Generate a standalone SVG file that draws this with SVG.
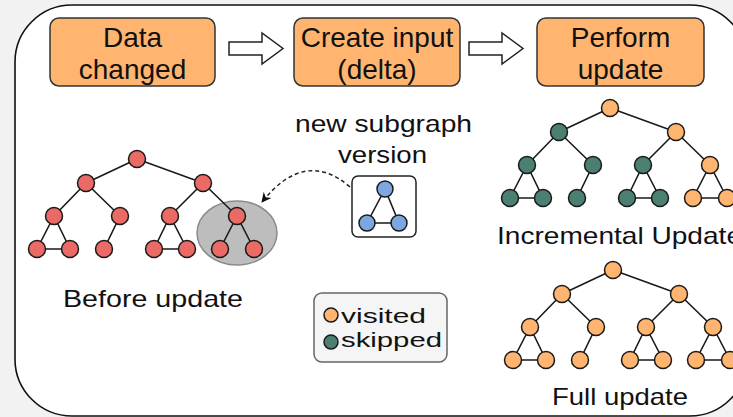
<svg xmlns="http://www.w3.org/2000/svg" width="733" height="417" viewBox="0 0 733 417">
<style>
text{font-family:"Liberation Sans",Arial,sans-serif;fill:#111}
.box{fill:#FFB570;stroke:#333;stroke-width:1.5}
.bt{font-size:28px;text-anchor:middle}
.lbl{font-size:24px}
.n{stroke:#1a1a1a;stroke-width:1.5}
.red{fill:#EA6B66}.org{fill:#FFB570}.teal{fill:#4A7F72}.blue{fill:#7EA6E0}
.e{stroke:#1a1a1a;stroke-width:1.6;fill:none}
.blk{fill:#fff;stroke:#222;stroke-width:1.5;stroke-linejoin:miter}
</style>
<defs>
<marker id="ah" viewBox="0 0 10 10" markerUnits="userSpaceOnUse" markerWidth="11" markerHeight="10" refX="9" refY="5" orient="auto">
<path d="M0,0 L10,5 L0,10 L3,5 z" fill="#111"/>
</marker>
</defs>
<rect x="0" y="0" width="733" height="417" fill="#f2f2f2"/>
<rect x="15" y="5" width="732" height="411" rx="57" fill="#fff" stroke="#111" stroke-width="1.6"/>

<g id="box-data"><rect class="box" x="50" y="18" width="165" height="68" rx="9"/><text class="bt" x="132.5" y="47">Data</text><text class="bt" x="132.5" y="79">changed</text></g>
<g id="box-create"><rect class="box" x="294" y="18" width="166" height="68" rx="9"/><text class="bt" x="377" y="47">Create input</text><text class="bt" x="377" y="79">(delta)</text></g>
<g id="box-perform"><rect class="box" x="537" y="18" width="167" height="68" rx="9"/><text class="bt" x="620.5" y="47">Perform</text><text class="bt" x="620.5" y="79">update</text></g>

<g id="connectors">
<polygon class="blk" points="229,42 262,42 262,33 283,48.5 262,64 262,55 229,55"/>
<polygon class="blk" points="469,42 502,42 502,33 523,48.5 502,64 502,55 469,55"/>
<path d="M350,187 Q305,148 262,202" fill="none" stroke="#222" stroke-width="1.5" stroke-dasharray="4 3" marker-end="url(#ah)"/>
</g>

<ellipse cx="237" cy="233" rx="40" ry="32" fill="#bdbdbd" stroke="#8a8a8a" stroke-width="1.5"/>
<rect x="352" y="176" width="64" height="61" rx="6" fill="#fff" stroke="#222" stroke-width="1.5"/>

<g id="edges">
<path class="e" d="M137,159L86,183M137,159L203,183M86,183L54,216M86,183L120,216M203,183L170,216M203,183L237,216M54,216L37,249M54,216L70,249M37,249L70,249M120,216L104,249M170,216L154,249M170,216L187,249M154,249L187,249M237,216L220,249M237,216L254,249"/>
<path class="e" d="M610,108L559,132M610,108L676,132M559,132L527,165M559,132L593,165M676,132L643,165M676,132L710,165M527,165L510,198M527,165L543,198M510,198L543,198M593,165L577,198M643,165L627,198M643,165L660,198M627,198L660,198M710,165L693,198M710,165L727,198M693,198L727,198"/>
<path class="e" d="M613,270L562,294M613,270L679,294M562,294L530,327M562,294L596,327M679,294L646,327M679,294L713,327M530,327L513,360M530,327L546,360M513,360L546,360M596,327L580,360M646,327L630,360M646,327L663,360M630,360L663,360M713,327L696,360M713,327L730,360M696,360L730,360"/>
<path class="e" d="M385,189L367,223M385,189L399,223M367,223L399,223"/>
</g>

<g id="before-tree">
<g id="b0"><circle class="n red" cx="137" cy="159" r="8.5"/></g>
<g id="b1"><circle class="n red" cx="86" cy="183" r="8.5"/></g>
<g id="b2"><circle class="n red" cx="203" cy="183" r="8.5"/></g>
<g id="b3"><circle class="n red" cx="54" cy="216" r="8.5"/></g>
<g id="b4"><circle class="n red" cx="120" cy="216" r="8.5"/></g>
<g id="b5"><circle class="n red" cx="170" cy="216" r="8.5"/></g>
<g id="b6"><circle class="n red" cx="237" cy="216" r="8.5"/></g>
<g id="b7"><circle class="n red" cx="37" cy="249" r="8.5"/></g>
<g id="b8"><circle class="n red" cx="70" cy="249" r="8.5"/></g>
<g id="b9"><circle class="n red" cx="104" cy="249" r="8.5"/></g>
<g id="b10"><circle class="n red" cx="154" cy="249" r="8.5"/></g>
<g id="b11"><circle class="n red" cx="187" cy="249" r="8.5"/></g>
<g id="b12"><circle class="n red" cx="220" cy="249" r="8.5"/></g>
<g id="b13"><circle class="n red" cx="254" cy="249" r="8.5"/></g>
</g>
<text class="lbl" x="63" y="307" textLength="180" lengthAdjust="spacingAndGlyphs">Before update</text>

<g id="subgraph">
<g id="s0"><circle class="n blue" cx="385" cy="189" r="8"/></g>
<g id="s1"><circle class="n blue" cx="367" cy="223" r="8"/></g>
<g id="s2"><circle class="n blue" cx="399" cy="223" r="8"/></g>
</g>
<text class="lbl" x="295" y="132" textLength="177" lengthAdjust="spacingAndGlyphs">new subgraph</text>
<text class="lbl" x="338" y="163" textLength="89" lengthAdjust="spacingAndGlyphs">version</text>

<g id="inc-tree">
<g id="i0"><circle class="n org" cx="610" cy="108" r="8.5"/></g>
<g id="i1"><circle class="n teal" cx="559" cy="132" r="8.5"/></g>
<g id="i2"><circle class="n org" cx="676" cy="132" r="8.5"/></g>
<g id="i3"><circle class="n teal" cx="527" cy="165" r="8.5"/></g>
<g id="i4"><circle class="n teal" cx="593" cy="165" r="8.5"/></g>
<g id="i5"><circle class="n teal" cx="643" cy="165" r="8.5"/></g>
<g id="i6"><circle class="n org" cx="710" cy="165" r="8.5"/></g>
<g id="i7"><circle class="n teal" cx="510" cy="198" r="8.5"/></g>
<g id="i8"><circle class="n teal" cx="543" cy="198" r="8.5"/></g>
<g id="i9"><circle class="n teal" cx="577" cy="198" r="8.5"/></g>
<g id="i10"><circle class="n teal" cx="627" cy="198" r="8.5"/></g>
<g id="i11"><circle class="n teal" cx="660" cy="198" r="8.5"/></g>
<g id="i12"><circle class="n org" cx="693" cy="198" r="8.5"/></g>
<g id="i13"><circle class="n org" cx="727" cy="198" r="8.5"/></g>
</g>
<text class="lbl" x="497" y="244" textLength="245" lengthAdjust="spacingAndGlyphs">Incremental Update</text>

<g id="full-tree">
<g id="f0"><circle class="n org" cx="613" cy="270" r="8.5"/></g>
<g id="f1"><circle class="n org" cx="562" cy="294" r="8.5"/></g>
<g id="f2"><circle class="n org" cx="679" cy="294" r="8.5"/></g>
<g id="f3"><circle class="n org" cx="530" cy="327" r="8.5"/></g>
<g id="f4"><circle class="n org" cx="596" cy="327" r="8.5"/></g>
<g id="f5"><circle class="n org" cx="646" cy="327" r="8.5"/></g>
<g id="f6"><circle class="n org" cx="713" cy="327" r="8.5"/></g>
<g id="f7"><circle class="n org" cx="513" cy="360" r="8.5"/></g>
<g id="f8"><circle class="n org" cx="546" cy="360" r="8.5"/></g>
<g id="f9"><circle class="n org" cx="580" cy="360" r="8.5"/></g>
<g id="f10"><circle class="n org" cx="630" cy="360" r="8.5"/></g>
<g id="f11"><circle class="n org" cx="663" cy="360" r="8.5"/></g>
<g id="f12"><circle class="n org" cx="696" cy="360" r="8.5"/></g>
<g id="f13"><circle class="n org" cx="730" cy="360" r="8.5"/></g>
</g>
<text class="lbl" x="552" y="405" textLength="136" lengthAdjust="spacingAndGlyphs">Full update</text>

<g id="legend">
<rect x="314" y="293" width="133" height="69" rx="8" fill="#f5f5f5" stroke="#666" stroke-width="1.5"/>
<circle class="n org" cx="331" cy="315" r="7"/>
<circle class="n teal" cx="331" cy="342" r="7"/>
<text x="341" y="323" font-size="21" textLength="85" lengthAdjust="spacingAndGlyphs">visited</text>
<text x="341" y="347" font-size="21" textLength="101" lengthAdjust="spacingAndGlyphs">skipped</text>
</g>
</svg>
